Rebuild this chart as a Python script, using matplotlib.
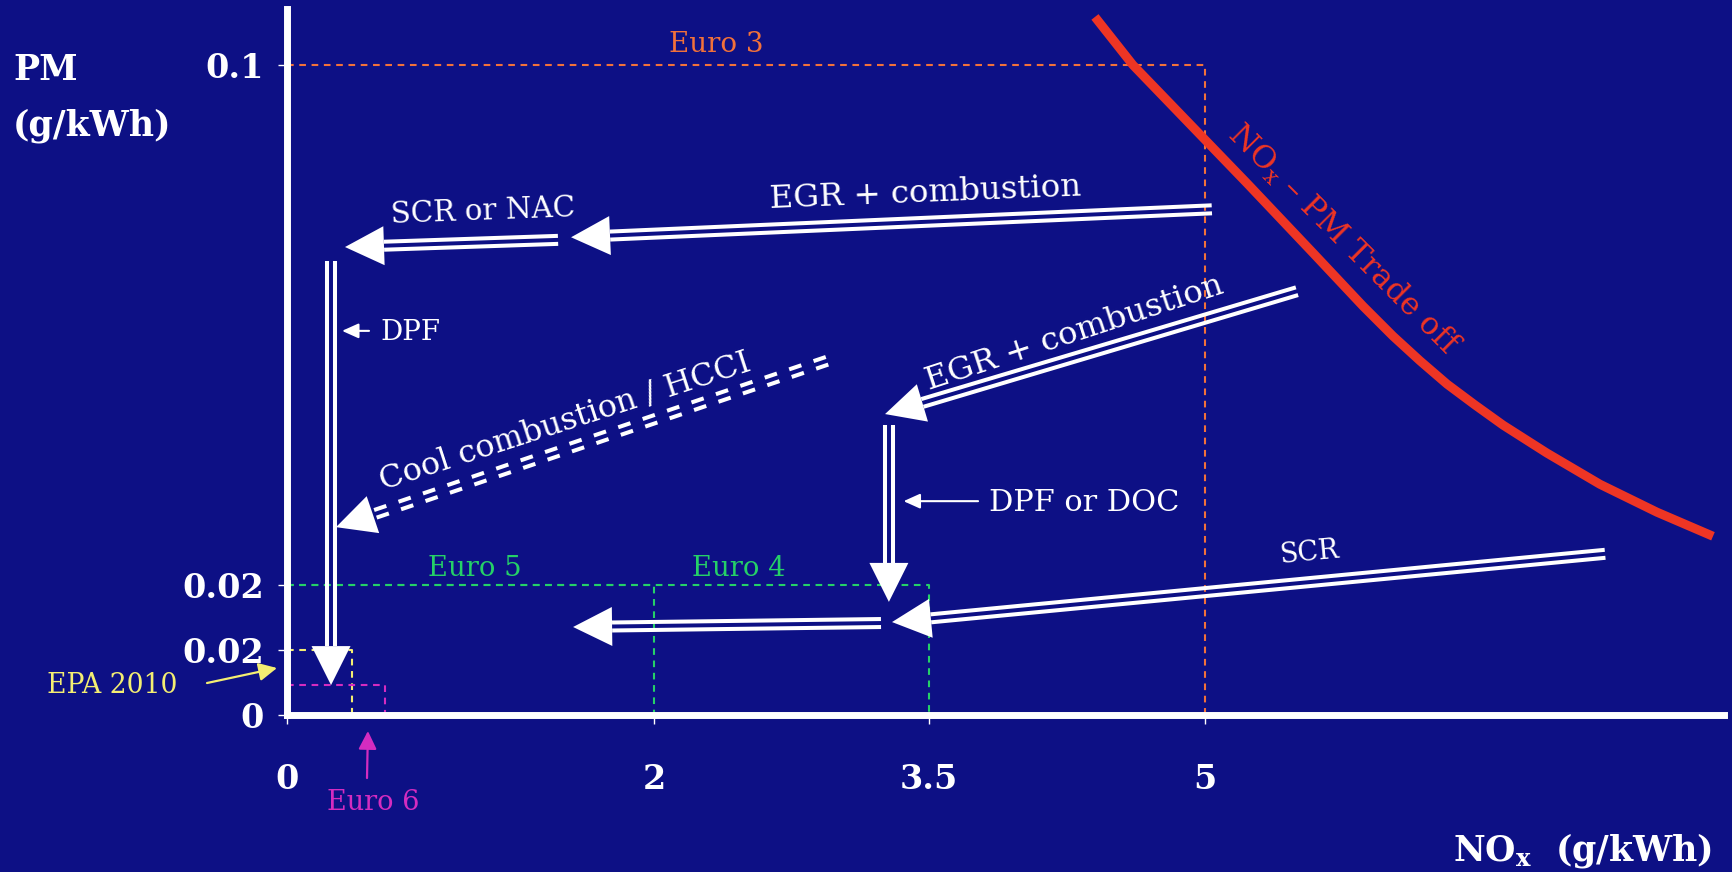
import numpy as np
import matplotlib.pyplot as plt

bg = '#0d1085'
plt.rcParams['font.family'] = ['DejaVu Serif']
plt.rcParams['mathtext.fontset'] = 'dejavuserif'

# emission limits (NOx g/kWh, PM g/kWh)
limit_names = ['Euro 3', 'Euro 4', 'Euro 5', 'EPA 2010', 'Euro 6']
limit_nox = [5.0, 3.5, 2.0, 0.354, 0.534]
limit_pm = [0.1, 0.02, 0.02, 0.010, 0.0046]
limit_colors = ['#f2713a', '#25d068', '#25d068', '#f4ee72', '#d42cc0']
limit_label_nox = [2.34, 2.46, 1.025, -0.95, 0.47]
limit_label_pm = [0.1031, 0.0225, 0.0225, 0.0046, -0.0134]
limit_label_size = [20, 19.7, 19.7, 19.2, 19.5]

# pointers for the labels outside the axes
pointer_from = [(-0.436, 0.00492), (0.436, -0.0097)]
pointer_to = [(-0.0545, 0.00723), (0.441, -0.00246)]
pointer_colors = ['#f4ee72', '#d42cc0']

# NOx - PM trade off curve
curve_nox = [4.403, 4.610, 5.003, 5.232, 5.591, 5.864, 6.027, 6.174, 6.322, 6.474,
             6.627, 6.866, 7.155, 7.466, 7.771]
curve_pm = [0.1074, 0.1000, 0.0885, 0.0818, 0.0711, 0.0629, 0.0583, 0.0545, 0.0509, 0.0477,
            0.0446, 0.0403, 0.0355, 0.0312, 0.0275]

x_ticks = [0, 2, 3.5, 5]
x_ticklabels = ['0', '2', '3.5', '5']
y_ticks = [0, 0.01, 0.02, 0.1]
y_ticklabels = ['0', '0.02', '0.02', '0.1']

# technology routes, start -> end in (NOx, PM)
route_start = [(5.04, 0.0778), (1.477, 0.0731), (0.240, 0.0698), (2.943, 0.0545),
               (5.504, 0.0652), (3.28, 0.0446), (7.183, 0.0248), (3.237, 0.01415)]
route_end = [(1.548, 0.0735), (0.316, 0.0720), (0.240, 0.0046), (0.267, 0.0289),
             (3.259, 0.0463), (3.28, 0.0174), (3.297, 0.0143), (1.559, 0.01354)]
route_dashed = [False, False, False, True, False, False, False, False]

route_labels = ['EGR + combustion', 'SCR or NAC', 'Cool combustion / HCCI', 'EGR + combustion', 'SCR']
route_label_nox = [3.48, 1.07, 1.515, 4.29, 5.575]
route_label_pm = [0.0803, 0.0774, 0.0450, 0.0588, 0.0249]
route_label_rot = [2.3, 2.1, 18, 18.2, 5.5]
route_label_size = [23.3, 21.2, 22.9, 23.3, 19.5]

# small side notes
note_labels = ['DPF', 'DPF or DOC']
note_from = [(0.447, 0.0591), (3.766, 0.0329)]
note_to = [(0.30, 0.0591), (3.36, 0.0329)]
note_size = [20, 21.9]

fig = plt.figure(figsize=(17.33, 8.72), dpi=100, facecolor=bg)
ax = fig.add_axes([287 / 1733, 157 / 872, 1437 / 1733, 706 / 872])
ax.set_facecolor(bg)
ax.set_xlim(0, 7.831)
ax.set_ylim(0, 0.10862)

for s in ['top', 'right']:
    ax.spines[s].set_visible(False)
for s in ['left', 'bottom']:
    ax.spines[s].set_color('white')
    ax.spines[s].set_linewidth(5)
    ax.spines[s].set_zorder(6)

ax.set_xticks(x_ticks)
ax.set_xticklabels(x_ticklabels)
ax.set_yticks(y_ticks)
ax.set_yticklabels(y_ticklabels)
ax.tick_params(colors='white', labelsize=24, length=6.5, width=1)
ax.tick_params(axis='x', pad=28)
ax.tick_params(axis='y', pad=10)
for lab in ax.get_xticklabels() + ax.get_yticklabels():
    lab.set_fontweight('bold')

fig.text(13 / 1733, 1 - 53 / 872, 'PM\n(g/kWh)', color='white', fontsize=25,
         fontweight='bold', ha='left', va='top', linespacing=1.8)
fig.text(1712 / 1733, 12 / 872, r'NO$_{\mathbf{x}}$  (g/kWh)', color='white', fontsize=25,
         fontweight='bold', ha='right', va='baseline')

# limit boxes
dash = (0, (3.2, 2.7))
for name, nx, pm, c, lx, ly, fs in zip(limit_names, limit_nox, limit_pm, limit_colors,
                                       limit_label_nox, limit_label_pm, limit_label_size):
    ax.plot([0, nx, nx], [pm, pm, 0], color=c, lw=1.5, linestyle=dash, zorder=2)
    ax.text(lx, ly, name, color=c, fontsize=fs, ha='center', va='center', clip_on=False)

for a, b, c in zip(pointer_from, pointer_to, pointer_colors):
    ax.annotate('', xy=b, xytext=a, annotation_clip=False,
                arrowprops=dict(arrowstyle='-|>,head_length=1.1,head_width=0.55', mutation_scale=10,
                                color=c, lw=1.6, shrinkA=0, shrinkB=0))

ax.plot(curve_nox, curve_pm, color='#ee3524', lw=6.5, zorder=4, clip_on=False,
        solid_capstyle='butt', solid_joinstyle='round')
ax.text(5.76, 0.0730, r'NO$_{\mathregular{x}}$ – PM Trade off', color='#ee3524', fontsize=22.5,
        rotation=-45, rotation_mode='anchor', ha='center', va='center')


def draw_arrow(tail, tip, dashed=False, head_len=39, head_half=19.5, lw=2.9, gap=8):
    p0 = ax.transData.transform(tail)
    p1 = ax.transData.transform(tip)
    d = (p1 - p0) / np.hypot(*(p1 - p0))
    n = np.array([-d[1], d[0]])
    base = p1 - d * head_len
    inv = ax.transData.inverted()
    for off in [-gap / 2, gap / 2]:
        seg = inv.transform(np.array([p0 + n * off, base + n * off]))
        ax.plot(seg[:, 0], seg[:, 1], color='white', lw=lw, solid_capstyle='butt',
                dash_capstyle='butt', linestyle=(0, (3.2, 3.2)) if dashed else '-',
                clip_on=False, zorder=3)
    head = inv.transform(np.array([p1, base + n * head_half, base - n * head_half]))
    ax.fill(head[:, 0], head[:, 1], color='white', lw=0, clip_on=False, zorder=3)


for a, b, dsh in zip(route_start, route_end, route_dashed):
    draw_arrow(a, b, dashed=dsh)

for t, x, y, r, fs in zip(route_labels, route_label_nox, route_label_pm, route_label_rot,
                          route_label_size):
    ax.text(x, y, t, color='white', fontsize=fs, rotation=r, rotation_mode='anchor',
            ha='center', va='center')

for t, a, b, fs in zip(note_labels, note_from, note_to, note_size):
    ax.annotate('', xy=b, xytext=a,
                arrowprops=dict(arrowstyle='-|>,head_length=1.0,head_width=0.45', mutation_scale=10,
                                color='white', lw=1.5, shrinkA=0, shrinkB=0))
    ax.text(a[0] + 0.06, a[1] - 0.0003, t, color='white', fontsize=fs, ha='left', va='center')

fig.savefig('out.png', dpi=100, facecolor=bg)
